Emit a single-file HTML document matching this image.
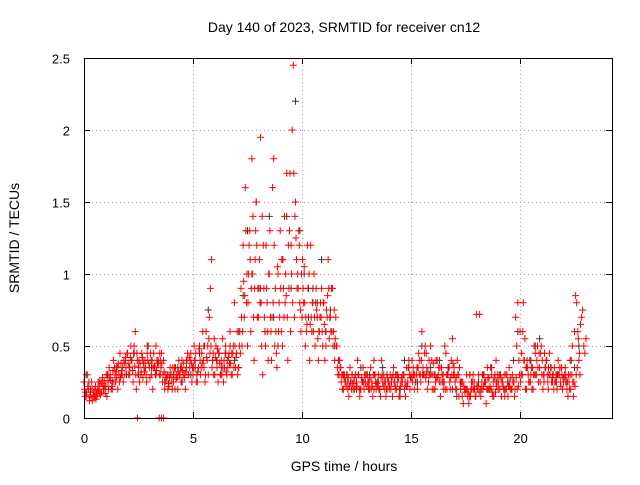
<!DOCTYPE html>
<html><head><meta charset="utf-8"><style>
body{margin:0;background:#fff}
svg{font-family:"Liberation Sans",sans-serif;font-size:13px}
</style></head><body>
<svg id="chart" width="640" height="480">
<rect x="0" y="0" width="640" height="480" fill="#fff"/>
<g id="grid"></g>
<g id="marks"></g>
<rect x="84.5" y="58.5" width="528" height="360" fill="none" stroke="#000"/>
<g id="ticks"></g>
<text x="344" y="32" text-anchor="middle" font-size="14">Day 140 of 2023, SRMTID for receiver cn12</text>
<text x="344" y="471" text-anchor="middle" font-size="14">GPS time / hours</text>
<text transform="translate(19,238) rotate(-90)" text-anchor="middle" font-size="14">SRMTID / TECUs</text>
</svg>
<script>
const xTicks=[0,5,10,15,20];
const yTicks=[0,0.5,1,1.5,2,2.5];
const yTickLabels=["0","0.5","1","1.5","2","2.5"];
const redA=[.25,.15,.2,.18,.12,.2,.15,.22,.18,.2,.22,.25,.3,.2,.35,.28,.3,.38,.25,.42,.45,.3,.4,.5,.2,.35,.3,.28,.4,.45,.35,.3,.45,.5,.4,.3,.25,.2,.28,.22,.3,.25,.35,.2,.3,.4,.28,.35,.3,.45,.3,.4,.25,.5,.45,.35,.6,.3,.9,.4,.3,.35,.45,.4,.25,.5,.35,.6,.3,.8,.45,.35,.9,1.2,1.6,.5,1.3,1.8,.4,1.5,.7,1.95,.3,.6,.8,1.0,.4,1.8,.6,1.0,1.3,.5,1.4,1.7,.9,1.2,2.45,1.5,1.0,.8,.7,1.05,.6,.9,1.2,.8,.5,.7,.6,.9,.8,.5,1.1,.7,.9,.4,.5,.3,.25,.2,.25,.2,.35,.3,.2,.25,.3,.2,.35,.25,.3,.2,.25,.4,.2,.3,.15,.25,.2,.3,.2,.25,.35,.2,.3,.15,.25,.2,.35,.4,.3,.35,.25,.2,.4,.6,.3,.45,.25,.5,.3,.2,.4,.25,.35,.2,.45,.3,.2,.55,.3,.2,.15,.25,.1,.2,.15,.3,.2,.25,.72,.3,.15,.2,.25,.35,.2,.3,.15,.4,.2,.3,.25,.15,.3,.35,.2,.25,.7,.8,.6,.3,.4,.2,.25,.3,.2,.45,.5,.35,.3,.25,.4,.2,.35,.3,.25,.2,.3,.35,.25,.3,.15,.3,.5,.6,.8,.4];
const redB=[.15,.3,.12,.25,.18,.13,.25,.16,.28,.22,.15,.35,.2,.4,.25,.2,.45,.3,.38,.3,.3,.5,.25,.6,.4,.25,.45,.35,.3,.5,.45,.2,.35,.4,.3,.45,.4,.3,.2,.35,.2,.35,.3,.4,.25,.3,.2,.45,.35,.25,.5,.25,.35,.3,.6,.25,.4,.7,1.1,.3,.5,.25,.3,.55,.35,.3,.45,.3,.5,.35,.3,.6,.5,.7,.8,1.0,.6,1.4,1.1,.7,1.1,.5,.9,1.2,.4,.7,1.6,.5,.35,.8,.6,.9,1.0,.4,1.7,2.0,.7,1.1,1.3,.6,.9,.5,1.2,.4,.6,1.0,.9,.4,.8,.5,.4,.7,.55,.9,.6,.7,.3,.35,.2,.3,.3,.15,.25,.2,.3,.4,.15,.25,.2,.3,.2,.35,.15,.3,.25,.2,.4,.3,.15,.25,.3,.15,.25,.3,.15,.25,.3,.15,.25,.2,.4,.2,.3,.45,.25,.35,.5,.2,.3,.4,.2,.4,.3,.15,.25,.5,.2,.35,.4,.3,.2,.3,.25,.15,.2,.3,.1,.2,.3,.15,.2,.72,.25,.3,.1,.2,.35,.15,.3,.25,.3,.15,.2,.3,.15,.2,.3,.15,.5,.4,.3,.8,.2,.35,.4,.2,.5,.3,.25,.45,.2,.35,.3,.45,.25,.2,.3,.4,.25,.2,.3,.2,.25,.4,.15,.85,.6,.3];
const redC=[.2,.18,.25,.14,.16,.22,.2,.17,.24,.26,.3,.2,.26,.33,.3,.36,.25,.33,.4,.35,.38,.42,.33,.36,.45,.4,.32,.38,.35,.4,.28,.4,.36,.33,.38,.35,.3,.25,.3,.28,.25,.3,.27,.32,.35,.33,.3,.4,.42,.38,.35,.45,.32,.4,.38,.5,.42,.55,.5,.45,.42,.48,.38,.3,.4,.32,.42,.38,.45,.5,.6,.5,.7,.95,1.3,.8,1.1,1.0,.9,1.2,.9,.8,1.2,.5,.6,1.3,.7,1.2,.45,.6,.9,1.1,.8,.7,1.3,1.0,1.7,1.25,.9,.75,1.1,.8,.65,1.0,.7,.6,.8,.55,.7,.6,.65,.75,.9,.6,.5,.55,.35,.4,.3,.28,.22,.28,.25,.24,.28,.22,.2,.28,.25,.3,.25,.28,.22,.3,.24,.2,.28,.22,.25,.28,.22,.28,.25,.2,.28,.22,.3,.25,.22,.3,.28,.3,.25,.35,.3,.3,.45,.35,.4,.3,.38,.25,.28,.35,.3,.25,.3,.35,.28,.38,.25,.4,.35,.25,.22,.2,.18,.15,.25,.2,.22,.18,.2,.22,.25,.28,.22,.18,.28,.22,.25,.28,.22,.2,.25,.22,.2,.25,.28,.22,.25,.6,.55,.4,.25,.35,.3,.3,.35,.25,.4,.45,.4,.3,.35,.3,.25,.3,.35,.3,.28,.25,.3,.2,.25,.22,.35,.45,.7,.5,.55];
const redD=[.18,.22,.16,.2,.15,.17,.19,.25,.22,.17,.3,.28,.22,.25,.32,.38,.28,.35,.3,.45,.35,.4,.45,.3,.3,.38,.42,.32,.25,.38,.4,.35,.3,.38,.45,.38,.32,.28,.24,.3,.35,.2,.28,.3,.35,.38,.32,.3,.4,.35,.4,.3,.48,.35,.4,.3,.5,.45,.35,.55,.4,.45,.3,.35,.45,.4,.38,.45,.35,.42,.35,.45,.6,.85,1.0,1.2,.9,.7,1.3,.9,.8,1.4,.7,.9,1.0,.6,.8,.9,1.05,.7,1.1,.7,.85,1.2,.6,.8,1.4,.9,1.2,1.0,.8,.7,.9,.65,.8,.7,.75,.6,.7,.8,.6,.85,.7,.6,.75,.5,.4,.35,.3,.25,.3,.22,.2,.25,.22,.3,.2,.25,.3,.22,.25,.2,.3,.25,.22,.2,.3,.25,.2,.25,.2,.3,.22,.25,.2,.28,.3,.22,.35,.28,.25,.3,.35,.3,.4,.3,.28,.32,.3,.2,.3,.28,.35,.25,.3,.2,.3,.25,.3,.35,.28,.3,.2,.25,.18,.2,.15,.25,.2,.15,.22,.2,.3,.25,.2,.28,.2,.25,.18,.3,.2,.25,.3,.2,.22,.28,.25,.2,.2,.3,.45,.4,.35,.3,.25,.35,.3,.4,.45,.5,.3,.35,.25,.3,.28,.35,.25,.3,.22,.28,.35,.25,.2,.3,.25,.3,.55,.65,.75,.45];
const black=[.3,.2,.15,.25,.2,.3,.25,.35,.3,.4,.35,.45,.3,.4,.5,.35,.3,.4,.25,.3,.3,.35,.25,.4,.3,.35,.45,.5,.75,.4,.4,.35,.45,.5,.4,.6,.85,1.3,1.0,1.5,.9,.6,1.4,.7,.5,1.1,1.4,.9,2.2,1.3,1.0,.7,.9,.8,1.1,.6,.75,.5,.4,.3,.25,.3,.2,.35,.25,.3,.2,.25,.35,.2,.25,.3,.2,.4,.35,.3,.25,.5,.3,.35,.3,.4,.25,.35,.2,.15,.25,.2,.3,.2,.25,.3,.2,.35,.25,.3,.2,.25,.4,.6,.3,.35,.4,.5,.55,.3,.35,.25,.3,.35,.25,.4,.35,.5];
const zeroTimes=[2.45,3.45,3.55,3.65];
const NS="http://www.w3.org/2000/svg";
const X=t=>84+t*21.8, Y=v=>418-v*144;
const grid=document.getElementById('grid'),ticks=document.getElementById('ticks'),marks=document.getElementById('marks');
function mk(tag,attrs,parent){const e=document.createElementNS(NS,tag);for(const k in attrs)e.setAttribute(k,attrs[k]);parent.appendChild(e);return e;}
xTicks.forEach(t=>{const x=Math.round(X(t))+0.5;
 if(t>0){const g=mk('line',{x1:x,x2:x,y1:58,y2:418,stroke:'#a0a0a0','stroke-dasharray':'1,3'},grid);}
 mk('line',{x1:x,x2:x,y1:418,y2:412,stroke:'#000'},ticks);mk('line',{x1:x,x2:x,y1:58,y2:64,stroke:'#000'},ticks);
 const l=mk('text',{x:x,y:443,'text-anchor':'middle'},ticks);l.textContent=t;
 });
yTicks.forEach((v,i)=>{const y=Math.round(Y(v))+0.5;
 if(v>0&&v<2.5){const g=mk('line',{x1:84,x2:612,y1:y,y2:y,stroke:'#a0a0a0','stroke-dasharray':'1,3'},grid);}
 mk('line',{x1:84,x2:90,y1:y,y2:y,stroke:'#000'},ticks);mk('line',{x1:606,x2:612,y1:y,y2:y,stroke:'#000'},ticks);
 const l=mk('text',{x:70,y:y+5,'text-anchor':'end'},ticks);l.textContent=yTickLabels[i];
 });
function plus(t,v,color,name){const x=X(t),y=Y(v);
 const p=mk('path',{d:`M${x-3.5} ${y}H${x+3.5}M${x} ${y-3.5}V${y+3.5}`,stroke:color,'stroke-width':1,fill:'none'},marks);
 }
black.forEach((v,i)=>plus(i*0.2+0.1,v,'#333','black-point'));
redA.forEach((v,i)=>plus(i*0.1,v,'#f00','red-point'));
redB.forEach((v,i)=>plus(i*0.1+0.05,v,'#f00','red-point'));
redC.forEach((v,i)=>plus(i*0.1+0.025,v,'#f00','red-point'));
redD.forEach((v,i)=>plus(i*0.1+0.075,v,'#f00','red-point'));
zeroTimes.forEach(t=>plus(t,0,'#f00','red-zero-point'));
</script>
</body></html>
